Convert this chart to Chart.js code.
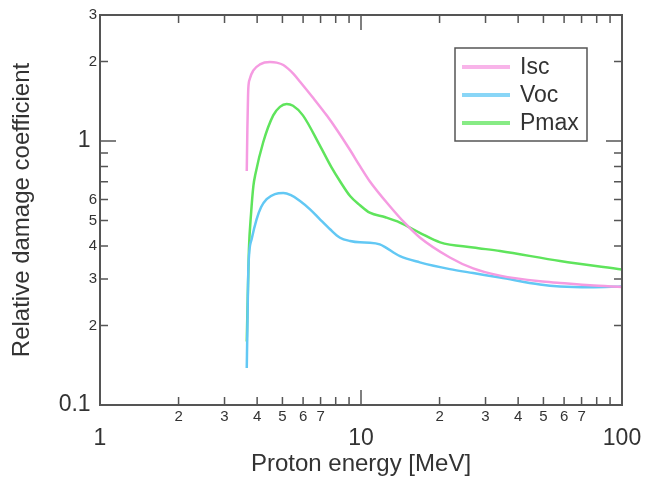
<!DOCTYPE html>
<html>
<head>
<meta charset="utf-8">
<script src="https://cdn.jsdelivr.net/npm/chart.js@4/dist/chart.umd.min.js"></script>
<style>
  html, body { margin: 0; padding: 0; background: #fff; }
  canvas { display: block; }
</style>
</head>
<body>
<canvas id="damageChart" width="651" height="477"></canvas>
<script>
// proton energy [MeV] / relative damage coefficient, one pair of arrays per parameter
var iscEnergy = [3.65, 3.67, 3.69, 3.70, 3.75, 3.87, 4.10, 4.48, 4.75, 5.04, 5.50, 5.84, 6.55, 7.41, 8.09, 9.08, 9.91, 10.8, 12.9, 14.74, 16.8, 21.9, 26.9, 34.1, 48.5, 57.9, 75.4, 100];
var iscValues = [0.77, 1.11, 1.45, 1.58, 1.72, 1.85, 1.95, 1.99, 1.98, 1.94, 1.80, 1.676, 1.457, 1.245, 1.101, 0.924, 0.803, 0.704, 0.566, 0.488, 0.431, 0.362, 0.329, 0.309, 0.294, 0.290, 0.284, 0.280];

var vocEnergy = [3.65, 3.67, 3.70, 3.81, 3.98, 4.14, 4.35, 4.68, 5.04, 5.39, 5.84, 6.38, 6.96, 7.61, 8.31, 9.08, 9.91, 10.8, 11.8, 14.1, 16.8, 21.9, 26.9, 34.1, 48.5, 57.9, 75.4, 100];
var vocValues = [0.138, 0.193, 0.326, 0.424, 0.505, 0.561, 0.602, 0.629, 0.635, 0.623, 0.593, 0.551, 0.505, 0.463, 0.430, 0.418, 0.413, 0.412, 0.406, 0.366, 0.347, 0.327, 0.316, 0.304, 0.286, 0.281, 0.279, 0.281];

var pmaxEnergy = [3.65, 3.68, 3.72, 3.79, 3.87, 3.94, 4.22, 4.61, 4.89, 5.19, 5.49, 5.99, 6.96, 7.7, 8.31, 9.08, 9.91, 10.8, 12.4, 14.1, 16.8, 20.1, 26.9, 34.1, 57.9, 100];
var pmaxValues = [0.174, 0.251, 0.388, 0.528, 0.676, 0.749, 0.989, 1.25, 1.346, 1.38, 1.359, 1.25, 0.96, 0.796, 0.704, 0.619, 0.571, 0.535, 0.514, 0.491, 0.449, 0.413, 0.395, 0.383, 0.351, 0.326];

var seriesNames = ['Isc', 'Voc', 'Pmax'];
var seriesColors = ['#f59be1', '#62c8f4', '#5fe45c'];

// tick positions and labels
var xTicks = [1, 2, 3, 4, 5, 6, 7, 8, 9, 10, 20, 30, 40, 50, 60, 70, 80, 90, 100];
var xMajor = [1, 10, 100];
var xMinorLabels = [2, 3, 4, 5, 6, 7];
var yTicks = [0.1, 0.2, 0.3, 0.4, 0.5, 0.6, 0.7, 0.8, 0.9, 1, 2, 3];
var yMajor = [0.1, 1];
var yTickLabels = ['0.1', '2', '3', '4', '5', '6', '', '', '', '1', '2', '3'];

var textColor = '#333';
var axisColor = '#555';
var fontFamily = '"Liberation Sans", Arial, Helvetica, sans-serif';

function toPoints(xs, ys) {
    return xs.map(function (v, i) { return {x: v, y: ys[i]}; });
}

function isIn(list, v) {
    return list.some(function (m) { return Math.abs(m - v) < 1e-9; });
}

// frame with inward tick marks on all four sides
var frameTicks = {
    id: 'frameTicks',
    afterDatasetsDraw: function (chart) {
        var ctx = chart.ctx, a = chart.chartArea;
        var xs = chart.scales.x, ys = chart.scales.y;
        ctx.save();
        ctx.strokeStyle = axisColor;
        ctx.lineWidth = 1.5;
        ctx.beginPath();
        xs.ticks.forEach(function (t) {
            var px = xs.getPixelForValue(t.value);
            var len = isIn(xMajor, t.value) ? 15 : 8;
            ctx.moveTo(px, a.bottom); ctx.lineTo(px, a.bottom - len);
            ctx.moveTo(px, a.top); ctx.lineTo(px, a.top + len);
        });
        ys.ticks.forEach(function (t) {
            var py = ys.getPixelForValue(t.value);
            var len = isIn(yMajor, t.value) ? 16 : 8;
            ctx.moveTo(a.left, py); ctx.lineTo(a.left + len, py);
            ctx.moveTo(a.right, py); ctx.lineTo(a.right - len, py);
        });
        ctx.stroke();
        ctx.lineWidth = 2;
        ctx.strokeRect(a.left, a.top, a.right - a.left, a.bottom - a.top);
        ctx.restore();
    }
};

// boxed legend in the upper right of the plot
var boxLegend = {
    id: 'boxLegend',
    afterDraw: function (chart) {
        var ctx = chart.ctx;
        var left = 455, top = 48, w = 132, h = 93;
        ctx.save();
        ctx.fillStyle = '#fff';
        ctx.fillRect(left, top, w, h);
        ctx.strokeStyle = axisColor;
        ctx.lineWidth = 1.5;
        ctx.strokeRect(left, top, w, h);
        ctx.font = '23px ' + fontFamily;
        ctx.textBaseline = 'middle';
        ctx.fillStyle = textColor;
        chart.data.datasets.forEach(function (ds, i) {
            var y = top + 19 + i * 28;
            ctx.strokeStyle = ds.borderColor;
            ctx.globalAlpha = 0.75;
            ctx.lineWidth = 4;
            ctx.beginPath();
            ctx.moveTo(left + 7, y);
            ctx.lineTo(left + 55, y);
            ctx.stroke();
            ctx.globalAlpha = 1;
            ctx.fillText(ds.label, left + 65, y + 1);
        });
        ctx.restore();
    }
};

var datasets = [
    toPoints(iscEnergy, iscValues),
    toPoints(vocEnergy, vocValues),
    toPoints(pmaxEnergy, pmaxValues)
].map(function (pts, i) {
    return {
        label: seriesNames[i],
        data: pts,
        borderColor: seriesColors[i],
        backgroundColor: seriesColors[i],
        borderWidth: 2.5,
        pointRadius: 0,
        fill: false,
        cubicInterpolationMode: 'monotone'
    };
});

var damageChart = new Chart(document.getElementById('damageChart'), {
    type: 'line',
    data: {datasets: datasets},
    plugins: [frameTicks, boxLegend],
    options: {
        responsive: false,
        animation: false,
        devicePixelRatio: 1,
        layout: {padding: {top: 15, right: 29, left: 0, bottom: 0}},
        plugins: {
            legend: {display: false},
            tooltip: {enabled: false}
        },
        scales: {
            x: {
                type: 'logarithmic',
                min: 1,
                max: 100,
                afterBuildTicks: function (scale) {
                    scale.ticks = xTicks.map(function (v) { return {value: v}; });
                },
                afterFit: function (scale) { scale.height = 72; },
                grid: {display: false, drawTicks: false},
                border: {display: false},
                ticks: {
                    autoSkip: false,
                    maxRotation: 0,
                    padding: 3,
                    color: textColor,
                    font: function (ctx) {
                        if (ctx.tick && isIn(xMajor, ctx.tick.value)) {
                            return {family: fontFamily, size: 23, lineHeight: 0.9};
                        }
                        return {family: fontFamily, size: 15, lineHeight: 1.2};
                    },
                    callback: function (value) {
                        if (isIn(xMajor, value)) return ['', String(value)];
                        var d = Math.round(value / Math.pow(10, Math.floor(Math.log10(value) + 1e-9)));
                        return xMinorLabels.indexOf(d) >= 0 ? String(d) : '';
                    }
                },
                title: {
                    display: true,
                    text: 'Proton energy [MeV]',
                    color: textColor,
                    font: {family: fontFamily, size: 24, lineHeight: 1},
                    padding: {top: 0, bottom: 1}
                }
            },
            y: {
                type: 'logarithmic',
                min: 0.1,
                max: 3,
                afterBuildTicks: function (scale) {
                    scale.ticks = yTicks.map(function (v) { return {value: v}; });
                },
                afterFit: function (scale) { scale.width = 100; },
                grid: {display: false, drawTicks: false},
                border: {display: false},
                ticks: {
                    autoSkip: false,
                    padding: 3,
                    color: textColor,
                    font: function (ctx) {
                        if (ctx.tick && isIn(yMajor, ctx.tick.value)) {
                            return {family: fontFamily, size: 23};
                        }
                        return {family: fontFamily, size: 15};
                    },
                    callback: function (value, index) {
                        var label = yTickLabels[index];
                        // the decade labels sit a little further from the axis
                        return isIn(yMajor, value) ? label + ' ' : label;
                    }
                },
                title: {
                    display: true,
                    text: 'Relative damage coefficient',
                    color: textColor,
                    font: {family: fontFamily, size: 24, lineHeight: 1},
                    padding: {top: 10, bottom: 0}
                }
            }
        }
    }
});
</script>
</body>
</html>
